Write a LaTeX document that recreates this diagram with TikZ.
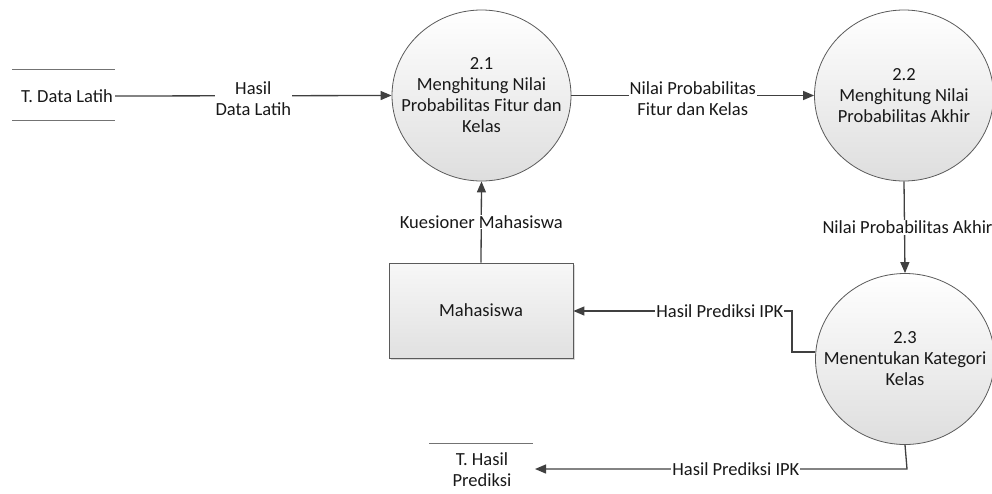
\documentclass[tikz,border=0pt]{standalone}
\usepackage{fontspec}
\setmainfont{Carlito}
\usetikzlibrary{arrows.meta,shapes.geometric,shadows}

\definecolor{flowline}{HTML}{404040}
\definecolor{edgegray}{HTML}{5A5A5A}

\tikzset{
  every node/.style={font=\fontsize{18.5}{21}\selectfont, text=black!90},
  process/.style={ellipse, draw=edgegray, line width=0.8pt,
    top color=white, bottom color=black!13,
    minimum width=179pt, minimum height=171pt, inner sep=0pt},
  proctext/.style={align=center, inner sep=0pt},
  entity/.style={rectangle, draw=edgegray, line width=0.8pt,
    top color=black!3, bottom color=black!12,
    minimum width=184pt, minimum height=95pt,
    drop shadow={shadow xshift=2pt, shadow yshift=-2pt, fill=black!15, opacity=1}},
  flow/.style={draw=flowline, line width=1.3pt,
    -{Triangle[length=11pt,width=9pt]}},
  flowlabel/.style={fill=white, inner sep=1pt, align=center},
  storeline/.style={draw=black!55, line width=0.8pt}
}

\begin{document}
\begin{tikzpicture}[x=1pt,y=-1pt]
  \useasboundingbox (0,0) rectangle (992,493);

  % processes: fixed-size bubbles, labels set on top
  \node[process] (p21) at (481.5,95.5) {};
  \node[proctext] (t21) at (p21.center)
    {2.1\\Menghitung Nilai\\Probabilitas Fitur dan\\Kelas};
  \node[process] (p22) at (904,95.5) {};
  \node[proctext] (t22) at (p22.center)
    {2.2\\Menghitung Nilai\\Probabilitas Akhir};
  \node[process] (p23) at (905,359) {};
  \node[proctext] (t23) at (p23.center)
    {2.3\\Menentukan Kategori\\Kelas};

  % external entity
  \node[entity] (mhs) at (481,310.5) {Mahasiswa};

  % data store: T. Data Latih
  \coordinate (dlTL) at (12,69);
  \coordinate (dlTR) at (115,69);
  \coordinate (dlBL) at (12,120);
  \coordinate (dlBR) at (115,120);
  \draw[storeline] (dlTL) -- (dlTR);
  \draw[storeline] (dlBL) -- (dlBR);
  \node[anchor=east, inner sep=2pt] (tdl) at (115,96) {T. Data Latih};

  % data store: T. Hasil Prediksi
  \coordinate (hpTL) at (429,443);
  \coordinate (hpTR) at (533,443);
  \draw[storeline] (hpTL) -- (hpTR);
  \node[align=center, inner sep=0pt] (thp) at (482,470) {T. Hasil\\Prediksi};

  % flows
  \draw[flow] (tdl.east) -- (p21.west)
    node[flowlabel, midway, yshift=-3pt] (lbl1) {Hasil\\Data Latih};
  \draw[flow] (p21.east) -- (p22.west)
    node[flowlabel, midway, yshift=-3pt] (lbl2) {Nilai Probabilitas\\Fitur dan Kelas};
  \draw[flow] (p22.south) -- (p23.north)
    node[flowlabel, midway, xshift=3pt] (lbl3) {Nilai Probabilitas Akhir};
  \draw[flow] (mhs.north) -- (p21.south)
    node[flowlabel, midway] (lbl4) {Kuesioner Mahasiswa};

  \coordinate (c1) at (792,352);
  \coordinate (c2) at (792,311);
  \draw[flow] (c1 -| p23.west) -- (c1) -- (c2) -- (c2 -| mhs.east)
    node[flowlabel, pos=0.33] (lbl5) {Hasil Prediksi IPK};

  \coordinate (c3) at (907,469);
  \coordinate (hpIn) at (535,469);
  \draw[flow] (p23.south) -- (c3) -- (hpIn)
    node[flowlabel, pos=0.46] (lbl6) {Hasil Prediksi IPK};
\end{tikzpicture}
\end{document}
